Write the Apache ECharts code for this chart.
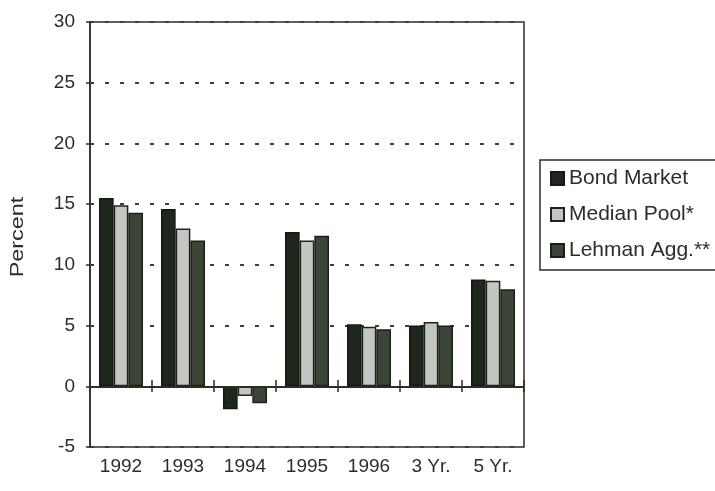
<!DOCTYPE html>
<html>
<head>
<meta charset="utf-8">
<script src="https://cdn.jsdelivr.net/npm/echarts@6/dist/echarts.min.js"></script>
<style>
html,body{margin:0;padding:0;background:#fff;}
#chart{width:715px;height:491px;}
</style>
</head>
<body>
<div id="chart"></div>
<script>
var categories = ['1992', '1993', '1994', '1995', '1996', '3 Yr.', '5 Yr.'];
var bondMarket = [15.5, 14.6, -1.9, 12.7, 5.1, 5.0, 8.8];
var medianPool = [14.9, 13.0, -0.8, 12.0, 4.9, 5.3, 8.7];
var lehmanAgg = [14.3, 12.0, -1.4, 12.4, 4.7, 5.0, 8.0];
var yTicks = [-5, 0, 5, 10, 15, 20, 25, 30];

var ink = '#28301f';
var font = 'Liberation Sans, Arial, sans-serif';
var chart = echarts.init(document.getElementById('chart'));
chart.setOption({
  animation: false,
  backgroundColor: '#ffffff',
  textStyle: { fontFamily: font },
  grid: { left: 90, right: 191, top: 22, bottom: 44, containLabel: false, outerBoundsMode: 'none',
          show: true, borderColor: ink, borderWidth: 1.5, backgroundColor: 'transparent' },
  legend: {
    orient: 'vertical', left: 540, top: 160,
    padding: [8, 30, 9, 10], itemGap: 15,
    itemWidth: 13, itemHeight: 13, icon: 'rect',
    borderColor: ink, borderWidth: 1.5,
    textStyle: { fontFamily: font, fontSize: 21, color: '#2a2d28' },
    data: ['Bond Market', 'Median Pool*', 'Lehman Agg.**']
  },
  graphic: [{
    type: 'text', rotation: Math.PI / 2,
    x: 18, y: 237, scaleX: 1.3,
    style: { text: 'Percent', font: '18px ' + font, fill: '#2a2d28', textAlign: 'center', textVerticalAlign: 'middle' }
  }],
  xAxis: [{
    type: 'category', data: categories, position: 'bottom',
    axisLine: { onZero: false, show: false },
    axisTick: { show: false },
    axisLabel: { margin: 10, fontSize: 19, color: '#2a2d28', fontFamily: font },
    splitLine: { show: false }
  }, {
    type: 'category', data: categories, position: 'top', offset: -370,
    axisLine: { onZero: false, show: false },
    axisTick: { show: true, length: 12, lineStyle: { color: ink, width: 1.5 } },
    axisLabel: { show: false },
    splitLine: { show: false }
  }],
  yAxis: {
    type: 'value', min: yTicks[0], max: yTicks[yTicks.length - 1], interval: 5,
    axisLine: { show: true, onZero: false, lineStyle: { color: ink, width: 1.5 } },
    axisTick: { show: true, length: 4, lineStyle: { color: ink, width: 1.5 } },
    axisLabel: { margin: 15, fontSize: 19, color: '#2a2d28', fontFamily: font },
    splitLine: { show: true, lineStyle: { color: '#3a4236', width: 2, type: [4, 11] } }
  },
  series: [{
    name: 'Bond Market', type: 'bar', data: bondMarket, xAxisIndex: 0,
    barGap: '0%', barCategoryGap: '29%',
    itemStyle: { color: '#1e271b', borderColor: '#141a12', borderWidth: 1.5 },
    markLine: {
      silent: true, symbol: 'none', label: { show: false },
      lineStyle: { color: ink, width: 2, type: 'solid' },
      data: [{ yAxis: 0 }]
    }
  }, {
    name: 'Median Pool*', type: 'bar', data: medianPool, xAxisIndex: 0,
    itemStyle: { color: '#c3c6c1', borderColor: '#1e241b', borderWidth: 1.5 }
  }, {
    name: 'Lehman Agg.**', type: 'bar', data: lehmanAgg, xAxisIndex: 0,
    itemStyle: { color: '#3b4638', borderColor: '#1a2017', borderWidth: 1.5 }
  }]
});
</script>
</body>
</html>
